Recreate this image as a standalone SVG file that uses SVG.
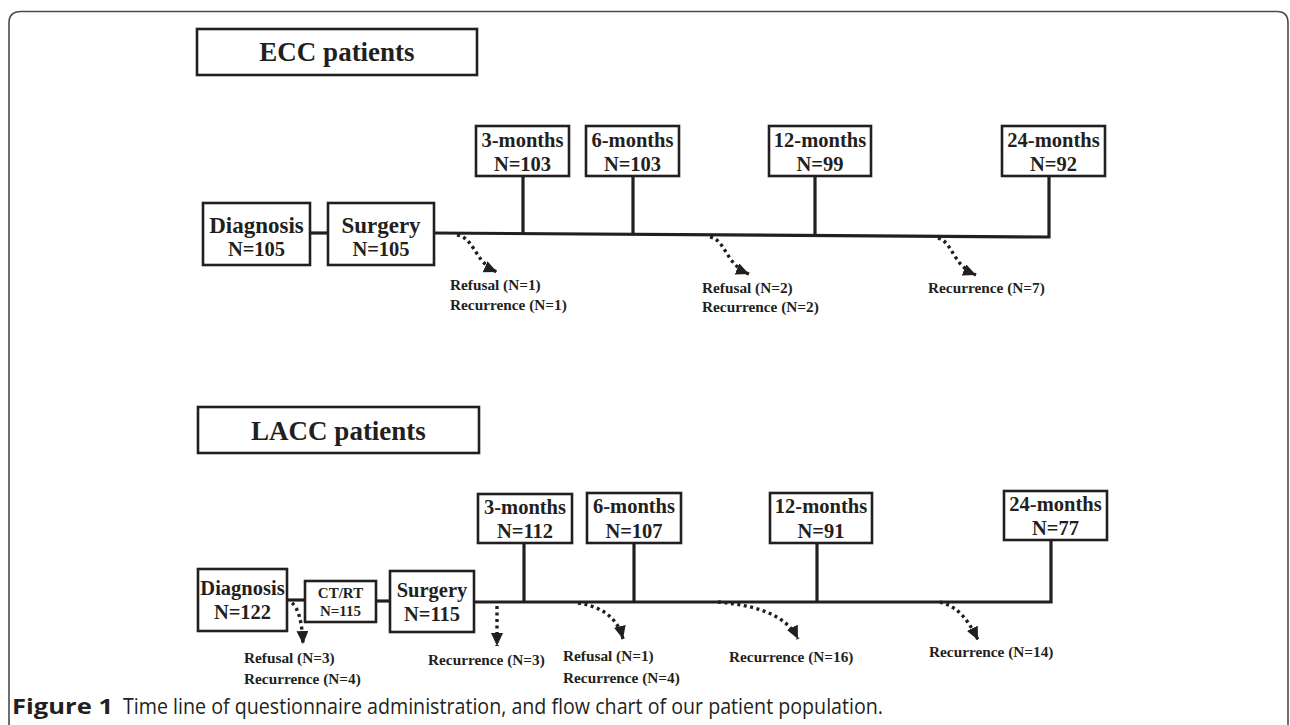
<svg xmlns="http://www.w3.org/2000/svg" width="1290" height="725" viewBox="0 0 1290 725">
<defs>
<marker id="ah" markerUnits="userSpaceOnUse" markerWidth="14" markerHeight="12" refX="13" refY="6" orient="auto" viewBox="0 0 14 12"><path d="M0,0 L13,6 L0,12 z" fill="#231f20"/></marker>
</defs>
<style>
.box{fill:#fff;stroke:#231f20;stroke-width:2.6}
.ln{fill:none;stroke:#231f20;stroke-width:3.2}
.dot{fill:none;stroke:#231f20;stroke-width:3.4;stroke-dasharray:3 3.5;marker-end:url(#ah)}
text{font-family:"Liberation Serif","Times New Roman",serif;font-weight:bold;fill:#231f20;text-anchor:middle}
.t27{font-size:27px}
.t23{font-size:23px}
.t20{font-size:20.5px}
.t15{font-size:15px}
.lbl{font-size:15.3px;text-anchor:start}
.cap{font-family:"Open Sans","Liberation Sans",Arial,sans-serif;text-anchor:start;font-size:21px}
.capb{font-weight:bold}
.capn{font-weight:normal}
</style>
<rect width="1290" height="725" fill="#fff"/>
<path d="M9,725 V23 Q9,11.5 21,11.5 H1277 Q1288,11.5 1288,23 V725" fill="none" stroke="#4a4a4a" stroke-width="1.6"/>

<g id="connectors">
  <!-- ECC -->
  <line class="ln" x1="310" y1="233" x2="328" y2="233"/>
  <path class="ln" d="M434,233 L1049,237 V176"/>
  <line class="ln" x1="523" y1="176" x2="523" y2="234"/>
  <line class="ln" x1="633" y1="176" x2="633" y2="235"/>
  <line class="ln" x1="815" y1="176" x2="815" y2="236"/>
  <path class="dot" d="M457,235 C475,238 474,262 497,272"/>
  <path class="dot" d="M710,237 C726,240 725,264 749,274"/>
  <path class="dot" d="M938,238 C953,242 952,265 976,275"/>
  <!-- LACC -->
  <line class="ln" x1="287" y1="600" x2="305" y2="600"/>
  <line class="ln" x1="376" y1="601" x2="390" y2="601"/>
  <path class="ln" d="M474,602 H1051 V540"/>
  <line class="ln" x1="524" y1="543" x2="524" y2="602"/>
  <line class="ln" x1="634" y1="543" x2="634" y2="602"/>
  <line class="ln" x1="817" y1="543" x2="817" y2="602"/>
  <path class="dot" d="M292,603 C298,608 302,620 303,644"/>
  <path class="dot" d="M497,606 L497,646"/>
  <path class="dot" d="M578,603 C598,606 617,615 623,639"/>
  <path class="dot" d="M718,602 C750,605 785,612 798,639"/>
  <path class="dot" d="M940,602 C955,606 966,615 978,640"/>
</g>

<g id="ecc-title"><rect class="box" x="197" y="29" width="280" height="46"/><text class="t27" x="337" y="61">ECC patients</text></g>
<g id="ecc-diagnosis"><rect class="box" x="203" y="203" width="107" height="62"/><text class="t23" x="256.5" y="233">Diagnosis</text><text class="t20" x="256.5" y="256">N=105</text></g>
<g id="ecc-surgery"><rect class="box" x="328" y="203" width="106" height="62"/><text class="t23" x="381" y="233">Surgery</text><text class="t20" x="381" y="256">N=105</text></g>
<g id="ecc-3m"><rect class="box" x="476" y="126" width="93" height="50"/><text class="t20" x="522.5" y="146.5">3-months</text><text class="t20" x="522.5" y="171">N=103</text></g>
<g id="ecc-6m"><rect class="box" x="586" y="126" width="93" height="50"/><text class="t20" x="632.5" y="146.5">6-months</text><text class="t20" x="632.5" y="171">N=103</text></g>
<g id="ecc-12m"><rect class="box" x="769" y="126" width="102" height="50"/><text class="t20" x="820" y="146.5">12-months</text><text class="t20" x="820" y="171">N=99</text></g>
<g id="ecc-24m"><rect class="box" x="1002" y="126" width="103" height="50"/><text class="t20" x="1053.5" y="146.5">24-months</text><text class="t20" x="1053.5" y="171">N=92</text></g>
<g id="ecc-drop1"><text class="lbl" x="450" y="290">Refusal (N=1)</text><text class="lbl" x="450" y="310">Recurrence (N=1)</text></g>
<g id="ecc-drop2"><text class="lbl" x="702" y="293">Refusal (N=2)</text><text class="lbl" x="702" y="312">Recurrence (N=2)</text></g>
<g id="ecc-drop3"><text class="lbl" x="928" y="293">Recurrence (N=7)</text></g>

<g id="lacc-title"><rect class="box" x="198" y="407" width="281" height="46"/><text class="t27" x="338.5" y="440">LACC patients</text></g>
<g id="lacc-diagnosis"><rect class="box" x="198" y="569" width="89" height="62"/><text class="t20" x="242.5" y="595">Diagnosis</text><text class="t20" x="242.5" y="619">N=122</text></g>
<g id="lacc-ctrt"><rect class="box" x="305" y="581" width="71" height="41"/><text class="t15" x="340.5" y="598">CT/RT</text><text class="t15" x="340.5" y="616">N=115</text></g>
<g id="lacc-surgery"><rect class="box" x="390" y="571" width="84" height="61"/><text class="t20" x="432" y="597">Surgery</text><text class="t20" x="432" y="621">N=115</text></g>
<g id="lacc-3m"><rect class="box" x="478" y="494" width="94" height="49"/><text class="t20" x="525" y="513.5">3-months</text><text class="t20" x="525" y="538">N=112</text></g>
<g id="lacc-6m"><rect class="box" x="587" y="493" width="94" height="50"/><text class="t20" x="634" y="513">6-months</text><text class="t20" x="634" y="538">N=107</text></g>
<g id="lacc-12m"><rect class="box" x="770" y="493" width="102" height="50"/><text class="t20" x="821" y="513">12-months</text><text class="t20" x="821" y="538">N=91</text></g>
<g id="lacc-24m"><rect class="box" x="1004" y="491" width="103" height="49"/><text class="t20" x="1055.5" y="511">24-months</text><text class="t20" x="1055.5" y="535">N=77</text></g>
<g id="lacc-drop1"><text class="lbl" x="244" y="663">Refusal (N=3)</text><text class="lbl" x="244" y="684">Recurrence (N=4)</text></g>
<g id="lacc-drop2"><text class="lbl" x="428" y="665">Recurrence (N=3)</text></g>
<g id="lacc-drop3"><text class="lbl" x="563" y="661">Refusal (N=1)</text><text class="lbl" x="563" y="683">Recurrence (N=4)</text></g>
<g id="lacc-drop4"><text class="lbl" x="729" y="662">Recurrence (N=16)</text></g>
<g id="lacc-drop5"><text class="lbl" x="929" y="657">Recurrence (N=14)</text></g>

<g id="caption"><text class="cap capb" x="12" y="714" textLength="101" lengthAdjust="spacingAndGlyphs">Figure 1</text><text class="cap capn" x="123" y="714" textLength="760" lengthAdjust="spacingAndGlyphs">Time line of questionnaire administration, and flow chart of our patient population.</text></g>
</svg>
